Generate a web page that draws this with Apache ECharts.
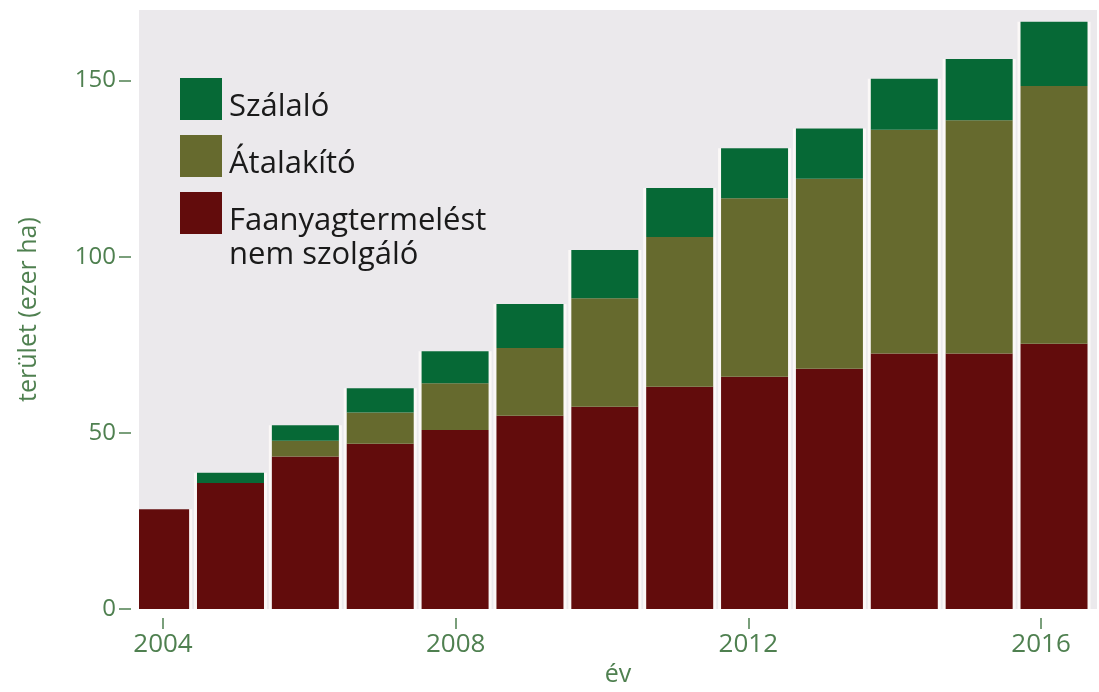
<!DOCTYPE html>
<html>
<head>
	<meta charset="utf-8">
	<title>terület (ezer ha)</title>
	<style type="text/css">
		body{margin:0;background:#fff;}
		#main{width:1099px;height:692px;}
	</style>
</head>
<body>
<div id="main"></div>
<script type="text/javascript" src="https://cdn.jsdelivr.net/npm/echarts@6/dist/echarts.min.js"></script>
<script type="text/javascript">
	var years = [2004, 2005, 2006, 2007, 2008, 2009, 2010, 2011, 2012, 2013, 2014, 2015, 2016];
	// ezer ha
	var faanyag = [28.3, 35.8, 43.3, 46.9, 50.8, 54.9, 57.4, 63.1, 65.9, 68.2, 72.5, 72.5, 75.3];
	var atalakito = [0, 0, 4.5, 8.9, 13.3, 19.2, 30.8, 42.5, 50.7, 53.9, 63.5, 66.2, 73.1];
	var szalalo = [0, 2.9, 4.4, 6.9, 9.1, 12.5, 13.7, 13.9, 14.2, 14.3, 14.5, 17.4, 18.3];
	var yTicks = [0, 50, 100, 150];
	var xTicks = [2004, 2008, 2012, 2016];
	var names = ['Szálaló', 'Átalakító', 'Faanyagtermelést\nnem szolgáló'];
	var colors = ['#066936', '#666a2e', '#620c0c'];

	var green = '#4f8050';
	var font = '"Open Sans", sans-serif';

	// value first, year second: the stack then works on the value dimension
	function pairs(arr){
		var out = [];
		for(var i=0;i<years.length;i++){
			out.push([arr[i], years[i]]);
		}
		return out;
	}

	var totals = [];
	for(var i=0;i<years.length;i++){
		totals.push(faanyag[i] + atalakito[i] + szalalo[i]);
	}

	// bars on a value axis are not clipped at the grid edge,
	// so a white strip hides the part of 2004 left of the plot
	var graphics = [{
		type: 'rect',
		left: 0,
		top: 0,
		z: 5,
		shape: {width: 139, height: 620},
		style: {fill: '#ffffff'}
	}];

	// legend drawn by hand, squares with text at their lower edge
	for(var k=0;k<names.length;k++){
		graphics.push({
			type: 'rect',
			left: 180,
			top: 78 + 57*k,
			z: 5,
			shape: {width: 42, height: 42},
			style: {fill: colors[k]}
		});
		graphics.push({
			type: 'text',
			x: 229,
			y: 78 + 57*k + 12,
			z: 5,
			style: {
				text: names[k],
				fill: '#1a1a1a',
				font: '31px ' + font,
				lineHeight: 34,
				verticalAlign: 'top'
			}
		});
	}

	var myChart = echarts.init(document.getElementById('main'));

	var barMin = 2003.778;
	var barMax = 2016.574;

	function barSeries(name, arr, color){
		return {
			name: name,
			type: 'bar',
			stack: 'all',
			xAxisIndex: 0,
			barWidth: 67,
			z: 2,
			encode: {x: 1, y: 0},
			itemStyle: {color: color},
			data: pairs(arr)
		};
	}

	var option = {
		animation: false,
		grid: {
			left: 139,
			right: 2,
			top: 10,
			bottom: 79,
			show: true,
			backgroundColor: '#ebe9ec',
			borderWidth: 0
		},
		xAxis: [
			{
				type: 'value',
				show: false,
				min: barMin,
				max: barMax
			},
			{
				type: 'value',
				position: 'bottom',
				offset: 9,
				min: 2003.672,
				max: 2016.765,
				z: 10,
				name: 'év',
				nameLocation: 'middle',
				nameGap: 40,
				nameTextStyle: {color: green, fontSize: 25, fontFamily: font},
				axisLine: {show: false},
				splitLine: {show: false},
				axisTick: {
					show: true,
					length: 11,
					customValues: xTicks,
					lineStyle: {color: green, width: 1.5}
				},
				axisLabel: {
					customValues: xTicks,
					margin: 13,
					color: green,
					fontSize: 26,
					fontFamily: font,
					formatter: function(v){ return String(v); }
				}
			},
			{
				type: 'value',
				show: false,
				min: barMin,
				max: barMax
			}
		],
		yAxis: {
			type: 'value',
			min: 0,
			max: 170,
			offset: 8,
			z: 10,
			name: 'terület (ezer ha)',
			nameLocation: 'middle',
			nameGap: 90,
			nameTextStyle: {color: green, fontSize: 25, fontFamily: font},
			axisLine: {show: false},
			splitLine: {show: false},
			axisTick: {
				show: true,
				length: 12,
				customValues: yTicks,
				lineStyle: {color: green, width: 1.5}
			},
			axisLabel: {
				customValues: yTicks,
				margin: 15,
				color: green,
				fontSize: 24,
				fontFamily: font
			}
		},
		graphic: graphics,
		series: [
			{
				// light outline behind each column
				type: 'bar',
				xAxisIndex: 2,
				barWidth: 73,
				silent: true,
				z: 1,
				encode: {x: 1, y: 0},
				itemStyle: {color: '#fbf8f7', borderColor: '#fbf8f7', borderWidth: 4},
				data: pairs(totals)
			},
			barSeries(names[2], faanyag, colors[2]),
			barSeries(names[1], atalakito, colors[1]),
			barSeries(names[0], szalalo, colors[0])
		]
	};

	myChart.setOption(option);
</script>
</body>
</html>
